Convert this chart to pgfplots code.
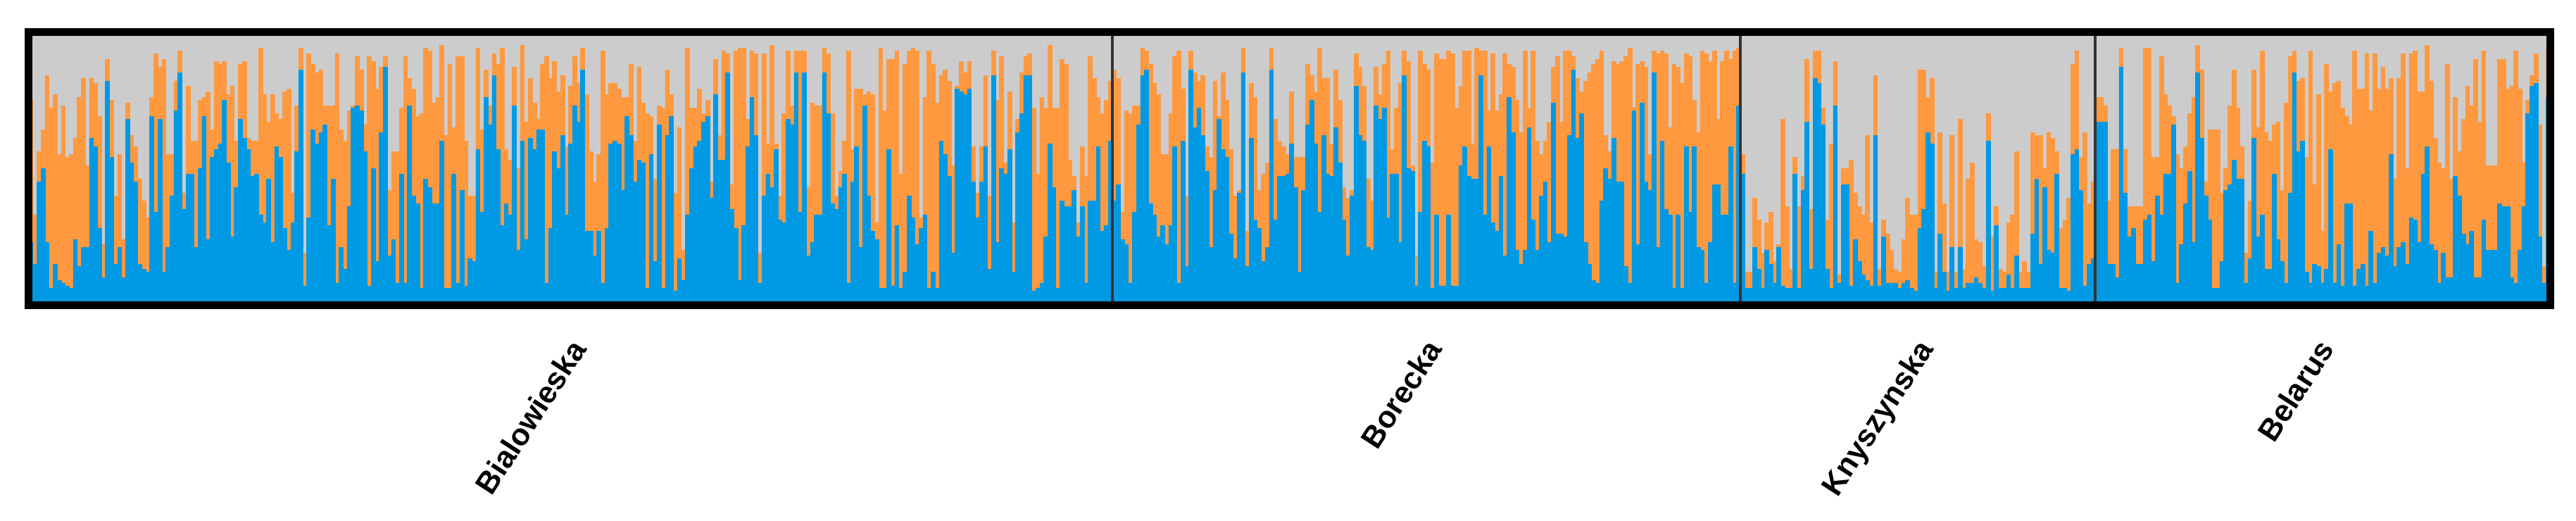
\documentclass[border=0pt]{standalone}
\usepackage{pgfplots}
\usepackage{pgfplotstable}
\pgfplotsset{compat=1.18}
\usepackage{fontspec}
\setmainfont{Liberation Sans}

\definecolor{kblue}{RGB}{0,153,228}
\definecolor{korange}{RGB}{255,153,64}
\definecolor{kgrey}{RGB}{204,204,204}

% b = top of blue share, o = top of orange share (percent); grey fills to 100
\pgfplotstableread{
b o
23 75
15 33
45 56
50 64
23 84
6 72
15 77
9 55
8 73
7 54
6 55
24 61
14 76
21 83
21 51
61 83
58 81
28 69
10 22
82 90
54 75
15 40
21 55
10 24
68 74
52 62
45 58
15 46
13 38
12 32
69 76
34 92
68 87
12 90
21 55
40 55
71 82
85 93
35 41
48 80
48 60
21 60
50 75
69 76
24 78
54 64
57 89
59 88
75 89
52 77
25 80
43 60
68 88
61 89
57 61
47 60
48 60
33 94
30 77
46 67
23 77
58 70
54 68
28 78
20 79
30 41
56 73
86 94
7 19
32 92
64 88
59 85
63 86
66 73
29 73
46 73
8 92
21 64
13 60
36 71
72 73
73 91
71 86
56 66
7 91
50 89
16 79
63 87
87 91
18 42
24 56
8 56
48 72
8 91
73 83
40 79
37 69
6 70
46 94
43 93
37 74
37 76
60 95
6 62
6 88
48 65
8 91
42 91
7 60
17 40
16 40
57 94
34 64
76 86
66 73
84 92
57 88
29 94
37 57
33 53
73 87
20 50
60 95
24 67
61 83
57 74
64 68
64 88
8 91
28 83
56 89
50 78
62 84
33 58
59 80
73 91
67 81
86 94
27 77
27 56
18 45
27 55
8 93
28 77
59 81
60 81
59 79
42 76
69 76
62 88
45 60
53 87
52 74
6 70
55 69
16 46
66 73
6 72
62 86
69 77
5 41
17 65
9 20
33 94
50 72
58 72
60 79
67 70
69 75
39 45
77 90
53 62
53 93
85 92
35 44
28 93
9 94
29 94
58 68
76 93
62 92
8 19
40 92
48 59
43 95
57 59
31 40
30 70
68 93
66 73
85 93
34 93
85 93
18 43
23 74
33 73
33 73
85 94
70 92
37 70
35 40
43 49
48 60
8 93
45 57
58 79
21 79
73 77
40 78
27 77
24 30
6 94
6 71
57 90
7 90
29 93
6 48
12 88
40 93
32 94
22 93
28 32
33 76
6 93
12 88
6 74
60 84
55 86
47 82
19 51
79 80
78 89
77 85
79 89
45 58
32 41
45 58
58 84
13 40
84 93
23 75
50 91
48 52
57 78
12 30
63 68
70 85
84 91
84 92
5 72
6 48
8 76
25 72
59 95
43 72
6 72
38 90
36 88
36 53
42 47
25 30
36 58
8 47
38 91
38 83
58 76
27 70
29 75
60 82
}\bial

\pgfplotstableread{
b o
38 86
44 83
24 34
22 71
8 70
34 73
66 73
84 94
86 93
37 88
33 81
25 77
29 55
22 55
29 70
58 91
8 93
60 79
14 40
86 93
65 85
72 82
62 84
49 58
21 54
42 82
68 69
57 85
54 75
26 57
17 40
41 42
85 94
14 27
61 81
31 76
28 42
16 48
21 52
86 94
31 68
47 60
47 58
48 55
59 78
43 54
12 54
42 54
66 88
75 84
59 78
34 94
62 83
48 83
47 59
65 86
52 75
31 43
18 39
40 42
80 92
62 87
60 80
21 46
20 38
73 87
68 77
72 88
32 93
48 57
48 72
23 81
84 93
50 89
49 51
7 18
34 93
60 88
58 86
6 52
33 92
7 90
7 90
33 93
7 92
7 72
51 80
58 93
47 93
46 59
46 94
84 93
33 93
58 71
30 92
27 71
47 77
18 92
76 88
63 87
20 75
15 63
20 93
65 72
31 93
20 60
40 55
45 60
23 67
74 87
26 91
26 67
25 93
62 93
86 91
61 83
70 78
23 82
15 85
9 88
8 90
38 93
50 62
46 56
61 89
45 88
45 89
14 91
8 94
71 72
22 88
74 89
45 87
42 55
85 93
21 92
60 93
35 92
33 65
6 88
33 87
6 81
58 92
34 91
58 75
21 63
20 93
8 92
23 89
44 93
44 68
33 89
33 93
58 90
8 93
73 94
}\borecka

\pgfplotstableread{
b o
48 55
6 12
6 12
21 39
13 31
6 19
20 30
15 34
8 16
21 22
7 68
6 36
6 13
48 54
6 36
42 47
67 90
13 35
83 93
81 93
66 72
13 31
6 59
73 89
8 11
44 50
44 50
7 53
24 41
16 36
11 33
9 62
7 30
62 84
7 13
25 31
8 26
8 20
8 13
6 12
8 24
9 39
6 33
5 33
28 86
35 86
63 76
59 83
6 12
26 63
12 37
5 12
21 62
6 12
21 68
6 13
8 46
8 52
10 24
8 23
6 14
60 70
5 25
29 36
6 13
6 12
11 30
6 33
18 56
6 12
6 16
6 12
26 63
46 62
15 62
43 50
20 63
19 61
48 56
6 28
6 31
5 39
55 88
57 93
42 54
7 63
15 37
17 45
}\knysz

\pgfplotstableread{
b o
67 76
67 76
67 73
15 38
15 57
10 57
87 94
41 57
25 36
28 36
15 36
15 36
31 94
33 94
16 54
40 54
33 91
48 77
48 73
66 69
8 55
22 50
37 58
49 70
23 76
85 95
61 86
40 45
31 64
6 64
6 64
16 41
42 50
44 73
53 86
46 72
46 58
8 19
17 38
61 86
25 65
33 93
13 63
13 60
48 66
24 67
16 42
8 74
41 91
85 93
56 82
60 83
12 54
8 93
15 44
14 77
8 27
13 88
57 78
8 81
22 82
7 72
37 69
37 66
7 93
13 79
15 79
7 92
27 71
8 92
19 79
21 87
18 79
55 83
14 46
21 83
23 92
15 50
32 92
31 93
23 78
48 78
58 95
22 82
20 61
8 52
19 50
10 88
10 46
47 76
40 56
26 68
22 80
27 73
10 90
10 67
31 93
20 51
20 51
20 51
37 90
36 90
36 79
10 80
8 93
20 79
36 52
70 75
80 84
81 92
25 66
8 14
76 94
}\belarus

\pgfplotsset{
  kbar/.style={ybar, bar width=1, bar shift=0pt, line width=0.1pt, fill=#1, draw=#1},
}
\tikzset{
  glabel/.style={anchor=north east, rotate=57, inner sep=0pt,
    font=\bfseries\fontsize{8.7}{10}\selectfont},
}

\begin{document}
\begin{tikzpicture}
\useasboundingbox (-8.2pt,-61.2pt) rectangle (723.6pt,86.6pt);
\begin{axis}[
  at={(0,0)}, anchor=south west,
  width=716.2pt, height=77.6pt, scale only axis,
  xmin=0, xmax=626, ymin=0, ymax=100,
  xtick=\empty, ytick=\empty,
  axis background/.style={fill=kgrey},
  axis line style={line width=2.2pt, black},
  axis on top, clip=false,
]
\addplot[kbar=korange] table[x expr=\coordindex+0.5, y=o] {\bial};
\addplot[kbar=kblue] table[x expr=\coordindex+0.5, y=b] {\bial};
\addplot[kbar=korange] table[x expr=\coordindex+269.5, y=o] {\borecka};
\addplot[kbar=kblue] table[x expr=\coordindex+269.5, y=b] {\borecka};
\addplot[kbar=korange] table[x expr=\coordindex+425.5, y=o] {\knysz};
\addplot[kbar=kblue] table[x expr=\coordindex+425.5, y=b] {\knysz};
\addplot[kbar=korange] table[x expr=\coordindex+513.5, y=o] {\belarus};
\addplot[kbar=kblue] table[x expr=\coordindex+513.5, y=b] {\belarus};

\draw[black!80, line width=0.8pt] (axis cs:269,0) -- (axis cs:269,100);
\draw[black!80, line width=0.8pt] (axis cs:425,0) -- (axis cs:425,100);
\draw[black!80, line width=0.8pt] (axis cs:513,0) -- (axis cs:513,100);

\node[glabel] at (axis cs:134,-11.5) {Bialowieska};
\node[glabel] at (axis cs:346.5,-11.5) {Borecka};
\node[glabel] at (axis cs:468.5,-11.5) {Knyszynska};
\node[glabel] at (axis cs:568,-11.5) {Belarus};
\end{axis}
\end{tikzpicture}
\end{document}
